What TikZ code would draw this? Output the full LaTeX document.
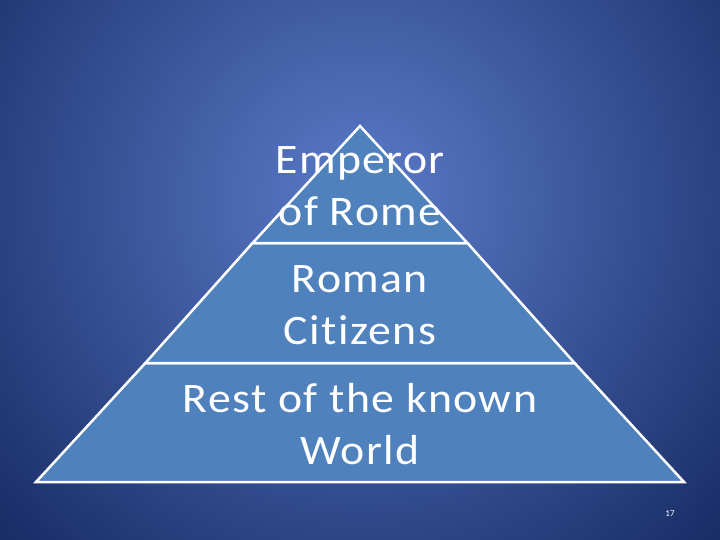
\documentclass[tikz,border=0pt]{standalone}
\usepackage{fontspec}
\setmainfont{Carlito}[Ligatures={NoCommon},LetterSpace=3]
\newcommand{\wideline}[1]{\scalebox{1.09}[1]{#1}}
\begin{document}
\begin{tikzpicture}[x=1pt,y=-1pt,
  tier/.style={fill=tierblue,draw=white,line width=2.5pt,line join=miter},
  lbl/.style={text=white,font=\fontsize{42}{52}\selectfont,align=center,inner sep=0pt}]
\definecolor{tierblue}{HTML}{4F81BD}
\definecolor{bgin}{HTML}{5B7BC9}
\definecolor{bgout}{HTML}{0F2258}
\useasboundingbox (0,0) rectangle (720,540);
\begin{scope}
\clip (0,0) rectangle (720,540);
\shade[inner color=bgin,outer color=bgout] (360,200) circle[radius=560];
\end{scope}
\draw[tier] (36,482) -- (684,482) -- (574.6,363) -- (145.4,363) -- cycle;
\draw[tier] (145.4,363) -- (574.6,363) -- (467.4,243) -- (252.6,243) -- cycle;
\draw[tier] (252.6,243) -- (467.4,243) -- (360,126) -- cycle;
\node[lbl] (t1) at (360,186) {\wideline{Emperor}\\\wideline{of Rome}};
\node[lbl] (t2) at (360,305) {\wideline{Roman}\\\wideline{Citizens}};
\node[lbl] (t3) at (360,424) {\wideline{Rest of the known}\\\wideline{World}};
\node[text=white,font=\fontsize{9}{10}\selectfont] (pg) at (670,514) {17};
\end{tikzpicture}
\end{document}
